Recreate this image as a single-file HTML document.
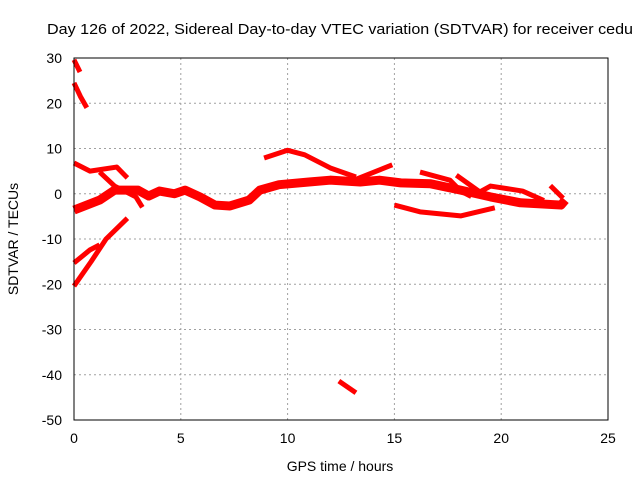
<!DOCTYPE html>
<html><head><meta charset="utf-8"><style>
body{margin:0;background:#fff}
svg text{font-family:"Liberation Sans",sans-serif;font-size:14px;fill:#000}
</style></head><body>
<svg width="640" height="480" id="c">
<text x="47" y="34" textLength="586" lengthAdjust="spacingAndGlyphs" style="font-size:15px">Day 126 of 2022, Sidereal Day-to-day VTEC variation (SDTVAR) for receiver cedu</text>
<text x="340" y="471" text-anchor="middle">GPS time / hours</text>
<text transform="translate(18,239) rotate(-90)" text-anchor="middle">SDTVAR / TECUs</text>
<g id="grid"></g><g id="marks"></g>
<rect x="74" y="58" width="534" height="362" fill="none" stroke="#000"/>
</svg>
<script>
const xTicks=[0,5,10,15,20,25];
const yTicks=[30,20,10,0,-10,-20,-30,-40,-50];
const track1=[[0,29.6],[0.28,26.9]];
const track2=[[0,24.5],[0.3,21.5],[0.6,19]];
const track3=[[0,6.8],[0.75,5],[2,5.9],[2.5,3.5]];
const track4=[[0,-3.6],[1.2,-1.4],[1.9,0.8],[3,0.8],[3.5,-0.5],[4,0.6],[4.7,0],[5.2,0.8],[5.9,-0.7],[6.6,-2.5],[7.3,-2.7],[8.2,-1.4],[8.7,0.8],[9.6,2],[11,2.6],[11.99,3],[13.4,2.6],[14.3,3],[15.3,2.4],[16.7,2.2],[18.1,0.8],[19.5,-0.7],[20.9,-2],[22.8,-2.5],[23,-1.4]];
const track5=[[1.2,4.8],[1.9,1.7],[2.9,-0.7],[3.2,-3]];
const track6=[[0,-15.3],[0.75,-12.4],[1.2,-11.3]];
const track7=[[0,-20.4],[0.8,-15],[1.5,-10],[2.5,-5.4]];
const track8=[[8.9,7.9],[10,9.6],[10.8,8.6],[12,5.7],[13.2,3.7]];
const track9=[[13.2,3.2],[14.9,6.4]];
const track10=[[15,-2.5],[16.2,-4],[18.1,-4.9],[19.7,-3.1]];
const track11=[[16.2,4.8],[17.6,3],[18.1,0.6],[18.6,-0.6]];
const track12=[[17.9,4.1],[19,0.4],[19.5,1.7],[21,0.6],[22,-1.5]];
const track13=[[12.4,-41.4],[13.2,-44]];
const track14=[[22.3,1.8],[22.9,-1]];
const tracks=[track1,track2,track3,track4,track5,track6,track7,track8,track9,track10,track11,track12,track13,track14];
const X=h=>74+h*534/25, Y=v=>58+(30-v)*362/80;
const NS="http://www.w3.org/2000/svg";
const g=document.getElementById('grid'), m=document.getElementById('marks'), svg=document.getElementById('c');
xTicks.forEach(t=>{
 if(t>0&&t<25){const l=document.createElementNS(NS,'line');l.setAttribute('x1',X(t));l.setAttribute('x2',X(t));l.setAttribute('y1',58);l.setAttribute('y2',420);l.setAttribute('stroke','#a0a0a0');l.setAttribute('stroke-dasharray','2,3');
 
 g.appendChild(l);}
 const tx=document.createElementNS(NS,'text');tx.setAttribute('x',X(t));tx.setAttribute('y',443);tx.setAttribute('text-anchor','middle');tx.textContent=t;
 
 svg.appendChild(tx);
});
yTicks.forEach(t=>{
 if(t<30&&t>-50){const l=document.createElementNS(NS,'line');l.setAttribute('x1',74);l.setAttribute('x2',608);l.setAttribute('y1',Y(t));l.setAttribute('y2',Y(t));l.setAttribute('stroke','#a0a0a0');l.setAttribute('stroke-dasharray','2,3');
 
 g.appendChild(l);}
 const tx=document.createElementNS(NS,'text');tx.setAttribute('x',62);tx.setAttribute('y',Y(t)+5);tx.setAttribute('text-anchor','end');tx.textContent=t;
 
 svg.appendChild(tx);
});
tracks.forEach((tr,i)=>{
 const p=document.createElementNS(NS,'polyline');
 p.setAttribute('points',tr.map(d=>X(d[0])+','+Y(d[1])).join(' '));
 p.setAttribute('fill','none');p.setAttribute('stroke','#ff0000');p.setAttribute('stroke-width',i==3?9:5);p.setAttribute('stroke-linejoin','round');
 
 
 m.appendChild(p);
});
</script>
</body></html>
